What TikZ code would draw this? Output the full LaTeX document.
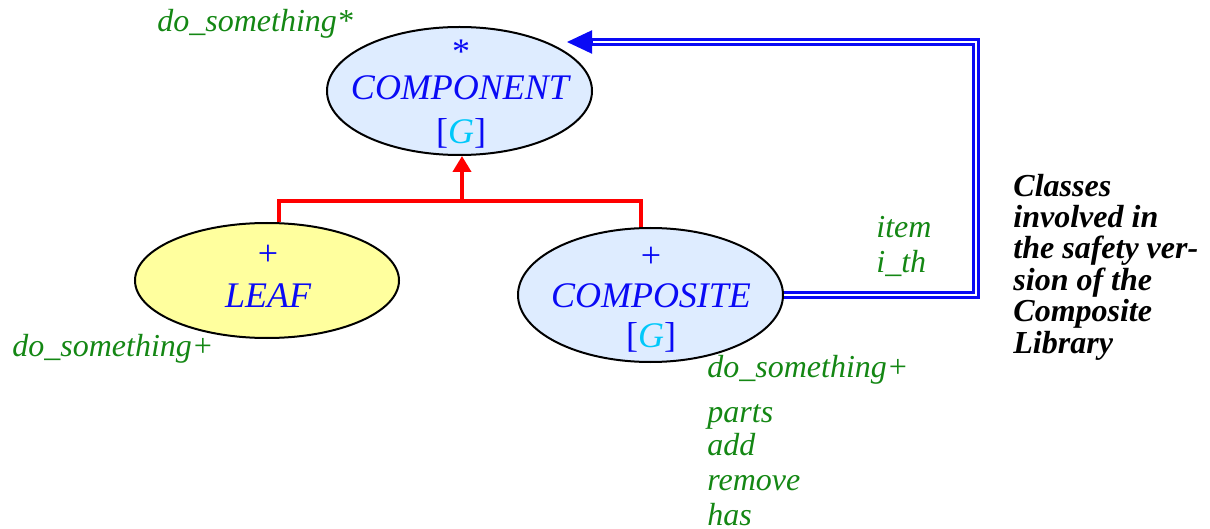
\documentclass[tikz,border=0pt]{standalone}
\usepackage{fontspec}
\setmainfont{LiberationSerif}[
    Extension=.ttf,
    UprightFont=*-Regular,
    ItalicFont=*-Italic,
    BoldFont=*-Bold,
    BoldItalicFont=*-BoldItalic]
\usepackage{xcolor}
\usepackage{tikz}
\usetikzlibrary{shapes.geometric, arrows.meta}
\definecolor{classBlue}{RGB}{10,10,245}
\definecolor{genericCyan}{RGB}{0,200,250}
\definecolor{featGreen}{RGB}{20,135,20}
\definecolor{classFill}{RGB}{222,236,255}
\definecolor{leafFill}{RGB}{255,255,158}
\tikzset{
    classbox/.style={
        ellipse,
        draw=black,
        line width=1pt,
        fill=classFill,
        inner sep=0pt
    },
    classname/.style={
        text=classBlue,
        font=\fontsize{18}{22}\selectfont\itshape,
        anchor=base,
        inner sep=0pt
    },
    feature/.style={
        text=featGreen,
        font=\fontsize{16}{17}\selectfont\itshape,
        anchor=base west,
        inner sep=0pt
    },
    heir/.style={
        draw=red,
        line width=2pt
    },
    client/.style={
        draw=classBlue,
        line width=1.5pt,
        double=white,
        double distance=1pt
    }
}
\newcommand{\generic}{\textup{[}\textcolor{genericCyan}{G}\textup{]}}

\begin{document}
\begin{tikzpicture}[x=0.5pt, y=-0.5pt]
    \useasboundingbox (0,0) rectangle (1210,529);

    % Classes
    \node[classbox, minimum width=132.5pt, minimum height=64pt] (component) at (459.5,91) {};
    \node[classbox, fill=leafFill, minimum width=132pt, minimum height=57.5pt] (leaf) at (267,280.5) {};
    \node[classbox, minimum width=132.5pt, minimum height=67pt] (composite) at (650.5,295) {};

    \node[classname] (component-mark) at (461,64) {\textup{*}};
    \node[classname] (component-name) at (460,100) {COMPONENT};
    \node[classname] (component-gen) at (461,144) {\generic};
    \node[classname] (leaf-mark) at (268,266) {\textup{+}};
    \node[classname] (leaf-name) at (268,307) {LEAF};
    \node[classname] (composite-mark) at (651,268) {\textup{+}};
    \node[classname] (composite-name) at (651,307) {COMPOSITE};
    \node[classname] (composite-gen) at (651,348) {\generic};

    % Inheritance
    \coordinate (joint) at (462,201);
    \draw[heir] (leaf.78) |- (joint) -| (composite.98);
    \draw[heir, -{Triangle[length=8pt, width=9pt]}] (joint) -- (joint |- component.south);

    % Client link
    \coordinate (bend) at (976,42);
    \coordinate (tip) at (567,42);
    \draw[client] (composite.east) -| (bend) -- ([xshift=12pt]tip);
    \draw[draw=classBlue, line width=1pt, -{Triangle[length=12.5pt, width=11.5pt]}] ([xshift=12.5pt]tip) -- (tip);

    % Features
    \node[feature] (deferred) at (157,32) {do\_something*};
    \node[feature] (leaf-effect) at (12,357) {do\_something+};
    \node[feature] (item) at (876,238) {item};
    \node[feature] (ith) at (876,273) {i\_th};
    \node[feature] (composite-effect) at (707,377) {do\_something+};
    \foreach \feat/\y in {parts/422, add/455, remove/490, has/525}
        \node[feature] (f-\feat) at (707,\y) {\feat};

    % Note
    \node[anchor=base west, inner sep=0pt, align=left,
          font=\fontsize{16}{15.7}\selectfont\bfseries\itshape] (note) at (1013,353)
        {Classes\\involved in\\the safety ver-\\sion of the\\Composite\\Library};
\end{tikzpicture}
\end{document}
